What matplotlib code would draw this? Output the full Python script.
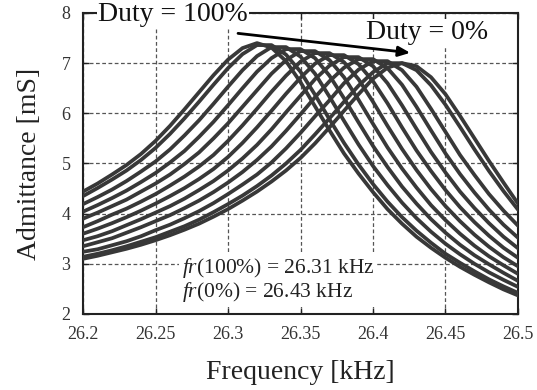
import numpy as np
import matplotlib
matplotlib.use("Agg")
import matplotlib.pyplot as plt

plt.rcParams['font.family'] = ['Liberation Serif', 'DejaVu Serif']
plt.rcParams['mathtext.fontset'] = 'custom'
plt.rcParams['mathtext.rm'] = 'Liberation Serif'
plt.rcParams['mathtext.it'] = 'Liberation Serif:italic'

# frequency grid [kHz], every 0.01 kHz
freq = np.linspace(26.20, 26.50, 31)

# admittance [mS], Duty = 100% first, Duty = 0% last
curve_01 = [4.44, 4.60, 4.78, 4.97, 5.19, 5.45, 5.75, 6.08, 6.42, 6.76, 7.07, 7.30, 7.40, 7.31, 7.04, 6.62,
            6.14, 5.66, 5.20, 4.80, 4.43, 4.09, 3.80, 3.54, 3.32, 3.12, 2.94, 2.78, 2.63, 2.49, 2.37]
curve_02 = [4.35, 4.51, 4.68, 4.86, 5.07, 5.31, 5.59, 5.90, 6.23, 6.57, 6.90, 7.18, 7.36, 7.36, 7.17, 6.83,
            6.37, 5.88, 5.41, 4.98, 4.59, 4.24, 3.93, 3.66, 3.42, 3.20, 3.02, 2.85, 2.69, 2.55, 2.42]
curve_03 = [4.19, 4.33, 4.48, 4.65, 4.84, 5.04, 5.28, 5.56, 5.86, 6.19, 6.53, 6.86, 7.14, 7.32, 7.32, 7.13,
            6.79, 6.33, 5.85, 5.38, 4.95, 4.57, 4.22, 3.91, 3.64, 3.40, 3.19, 3.00, 2.83, 2.68, 2.54]
curve_04 = [4.04, 4.17, 4.31, 4.46, 4.63, 4.81, 5.02, 5.25, 5.53, 5.83, 6.16, 6.50, 6.83, 7.10, 7.28, 7.28,
            7.10, 6.75, 6.30, 5.82, 5.35, 4.93, 4.54, 4.20, 3.89, 3.62, 3.38, 3.17, 2.99, 2.82, 2.66]
curve_05 = [3.90, 4.02, 4.15, 4.28, 4.44, 4.60, 4.78, 4.99, 5.22, 5.50, 5.80, 6.13, 6.46, 6.79, 7.06, 7.24,
            7.24, 7.06, 6.72, 6.27, 5.79, 5.32, 4.90, 4.52, 4.17, 3.87, 3.60, 3.36, 3.15, 2.97, 2.80]
curve_06 = [3.73, 3.85, 3.98, 4.10, 4.24, 4.39, 4.56, 4.74, 4.94, 5.17, 5.45, 5.76, 6.09, 6.43, 6.75, 7.03,
            7.20, 7.20, 7.02, 6.68, 6.23, 5.75, 5.29, 4.87, 4.49, 4.15, 3.85, 3.58, 3.34, 3.13, 2.95]
curve_07 = [3.60, 3.70, 3.81, 3.93, 4.06, 4.20, 4.35, 4.51, 4.69, 4.89, 5.13, 5.41, 5.72, 6.05, 6.39, 6.71,
            6.99, 7.16, 7.16, 6.98, 6.64, 6.20, 5.72, 5.26, 4.85, 4.47, 4.13, 3.83, 3.56, 3.32, 3.12]
curve_08 = [3.47, 3.55, 3.65, 3.77, 3.89, 4.02, 4.15, 4.30, 4.47, 4.65, 4.86, 5.10, 5.37, 5.68, 6.02, 6.35,
            6.68, 6.95, 7.12, 7.12, 6.94, 6.60, 6.16, 5.69, 5.23, 4.82, 4.44, 4.11, 3.81, 3.54, 3.31]
curve_09 = [3.35, 3.43, 3.51, 3.62, 3.73, 3.85, 3.97, 4.11, 4.26, 4.43, 4.62, 4.83, 5.07, 5.34, 5.65, 5.98,
            6.32, 6.64, 6.91, 7.08, 7.08, 6.90, 6.57, 6.13, 5.66, 5.20, 4.79, 4.42, 4.08, 3.78, 3.52]
curve_10 = [3.24, 3.29, 3.37, 3.45, 3.55, 3.67, 3.78, 3.91, 4.05, 4.21, 4.39, 4.58, 4.78, 5.02, 5.30, 5.61,
            5.94, 6.26, 6.60, 6.87, 7.04, 7.04, 6.86, 6.53, 6.09, 5.63, 5.17, 4.77, 4.39, 4.06, 3.76]
curve_11 = [3.14, 3.20, 3.27, 3.35, 3.44, 3.53, 3.64, 3.75, 3.88, 4.03, 4.19, 4.36, 4.55, 4.76, 5.00, 5.27,
            5.58, 5.90, 6.23, 6.55, 6.82, 7.00, 7.00, 6.86, 6.56, 6.17, 5.73, 5.28, 4.85, 4.45, 4.08]
curve_12 = [3.10, 3.16, 3.23, 3.30, 3.38, 3.47, 3.57, 3.68, 3.80, 3.94, 4.09, 4.26, 4.44, 4.64, 4.86, 5.11,
            5.40, 5.72, 6.05, 6.38, 6.69, 6.91, 7.00, 6.94, 6.72, 6.38, 5.95, 5.50, 5.05, 4.62, 4.20]

curves = [curve_01, curve_02, curve_03, curve_04, curve_05, curve_06,
          curve_07, curve_08, curve_09, curve_10, curve_11, curve_12]

xticks = [26.2, 26.25, 26.3, 26.35, 26.4, 26.45, 26.5]
xtick_labels = ['26.2', '26.25', '26.3', '26.35', '26.4', '26.45', '26.5']
yticks = [2, 3, 4, 5, 6, 7, 8]

fig = plt.figure(figsize=(5.37, 3.90), dpi=100)
ax = fig.add_axes([0.1546, 0.1949, 0.81, 0.7718])

for c in curves:
    ax.plot(freq, c, color='#383838', lw=2.7, solid_joinstyle='round', solid_capstyle='round', zorder=3)

ax.set_xlim(26.2, 26.5)
ax.set_ylim(2, 8)
ax.set_xticks(xticks)
ax.set_xticklabels(xtick_labels)
ax.set_yticks(yticks)
ax.grid(True, color='#555555', ls=(0, (3, 2)), lw=0.9, zorder=1)
ax.tick_params(direction='in', length=4, width=1, top=True, right=True,
               labelsize=13, pad=9, colors='#222222', labelcolor='#333333')
for s in ax.spines.values():
    s.set_linewidth(1.5)
    s.set_color('#222222')

ax.set_xlabel('Frequency [kHz]', fontsize=20, color='#222222', labelpad=12)
ax.set_ylabel('Admittance [mS]', fontsize=20, color='#222222', labelpad=14)

box = dict(facecolor='white', edgecolor='none', pad=1.0)
ax.text(26.2105, 7.96, 'Duty = 100%', fontsize=20, ha='left', va='center',
        color='#111111', bbox=box, zorder=6, clip_on=False)
ax.text(26.395, 7.48, 'Duty = 0%', fontsize=20, ha='left', va='baseline',
        color='#111111', bbox=box, zorder=6)
ax.annotate('', xy=(26.4276, 7.20), xytext=(26.305, 7.60),
            arrowprops=dict(arrowstyle='-|>,head_length=0.7,head_width=0.3', color='black', lw=2),
            zorder=7)

ax.text(26.268, 3.16, '$fr$(100%) = 26.31 kHz\n$fr$(0%) = 26.43 kHz', fontsize=15.5,
        ha='left', va='top', linespacing=1.0, color='#222222',
        bbox=dict(facecolor='white', edgecolor='none', pad=2.0), zorder=6)

fig.savefig('out.png', dpi=100)
